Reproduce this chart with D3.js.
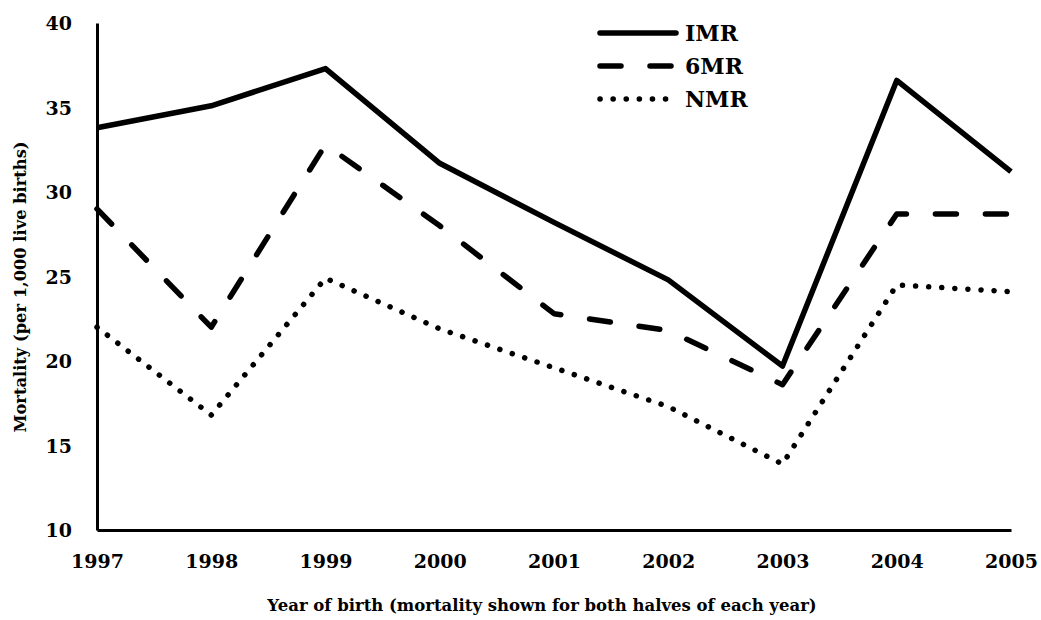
<!DOCTYPE html>
<html lang="en">
<head>
    <meta charset="UTF-8">
    <title>Mortality by year of birth</title>
    <script src="https://cdn.jsdelivr.net/npm/d3@7"></script>
    <style>
        body { margin: 0; background: #fff; }
        svg text { font-family: "DejaVu Serif", serif; font-weight: bold; fill: #000; }
    </style>
</head>
<body>
    <svg id="chart" width="1041" height="620"></svg>

    <script>
        // values (deaths per 1,000 live births)
        const years = [1997, 1998, 1999, 2000, 2001, 2002, 2003, 2004, 2005];
        const imr = [33.8, 35.1, 37.3, 31.7, 28.2, 24.8, 19.7, 36.6, 31.2];
        const sixMr = [29.0, 22.0, 32.8, 28.0, 22.8, 21.8, 18.6, 28.7, 28.7];
        const nmr = [22.0, 16.8, 24.9, 21.9, 19.6, 17.3, 13.9, 24.5, 24.1];
        const yTicks = [10, 15, 20, 25, 30, 35, 40];

        const series = [
            { name: 'IMR', values: imr, dash: null, cap: 'butt' },
            { name: '6MR', values: sixMr, dash: '21,29', cap: 'round' },
            { name: 'NMR', values: nmr, dash: '0.1,13', cap: 'round' }
        ];

        const margin = { top: 23, left: 97 };
        const width = 914, height = 507;

        const svg = d3.select('#chart');
        const g = svg.append('g').attr('transform', `translate(${margin.left},${margin.top})`);

        const x = d3.scaleLinear().domain([1997, 2005]).range([0, width]);
        const y = d3.scaleLinear().domain([10, 40]).range([height, 0]);

        // axes - no tick marks, just the heavy black lines
        const xAxis = g.append('g')
            .attr('transform', `translate(0,${height})`)
            .call(d3.axisBottom(x).tickValues(years).tickFormat(d3.format('d')).tickSize(0).tickSizeOuter(0));
        xAxis.selectAll('text').attr('y', 38).attr('dy', null).style('font-size', '19px');

        const yAxis = g.append('g')
            .call(d3.axisLeft(y).tickValues(yTicks).tickSize(0).tickSizeOuter(0));
        yAxis.selectAll('text').attr('x', -25).attr('dy', '0.36em').style('font-size', '19px');

        g.selectAll('.domain').attr('stroke', '#000').attr('stroke-width', 3);

        const line = d3.line()
            .x((d, i) => x(years[i]))
            .y(d => y(d));

        series.forEach(s => {
            g.append('path')
                .datum(s.values)
                .attr('fill', 'none')
                .attr('stroke', '#000')
                .attr('stroke-width', 5.5)
                .attr('stroke-linejoin', 'round')
                .attr('stroke-linecap', s.cap)
                .attr('stroke-dasharray', s.dash)
                .attr('d', line);
        });

        // legend, top right inside the plot
        const legend = svg.append('g').attr('transform', 'translate(597,33)');
        series.forEach((s, i) => {
            const row = legend.append('g').attr('transform', `translate(0,${i * 33})`);
            row.append('line')
                .attr('x1', 3).attr('x2', 79)
                .attr('stroke', '#000')
                .attr('stroke-width', 5.5)
                .attr('stroke-linecap', 'round')
                .attr('stroke-dasharray', s.dash);
            row.append('text')
                .attr('x', 88)
                .attr('dy', '0.36em')
                .style('font-size', '22px')
                .text(s.name);
        });

        // axis titles
        svg.append('text')
            .attr('x', 542)
            .attr('y', 611)
            .attr('text-anchor', 'middle')
            .style('font-size', '16.5px')
            .text('Year of birth (mortality shown for both halves of each year)');

        svg.append('text')
            .attr('transform', 'translate(26,287) rotate(-90)')
            .attr('text-anchor', 'middle')
            .style('font-size', '16.3px')
            .text('Mortality (per 1,000 live births)');
    </script>
</body>
</html>
